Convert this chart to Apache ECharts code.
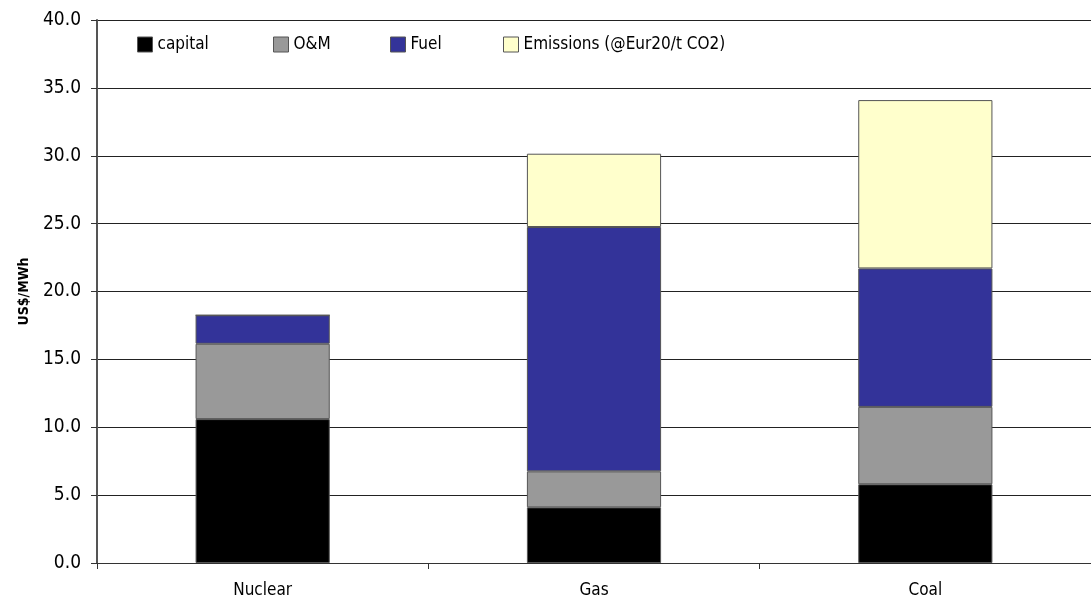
<!DOCTYPE html>
<html lang="en">
<head>
    <meta charset="UTF-8">
    <title>Generation cost</title>
    <script src="https://cdn.jsdelivr.net/npm/echarts@6/dist/echarts.min.js"></script>
    <style>
        html, body { margin: 0; padding: 0; width: 100%; height: 100%; background: #fff; }
        #chart { width: 1091px; height: 603px; }
    </style>
</head>
<body>
<div id="chart"></div>
<script type="text/javascript">
    // categories and stacked components (US$/MWh)
    var categories = ['Nuclear', 'Gas', 'Coal'];
    var capital = [10.6, 4.1, 5.8];
    var oam = [5.55, 2.65, 5.7];
    var fuel = [2.1, 18.0, 10.2];
    var emissions = [0, 5.4, 12.4];
    var seriesNames = ['capital', 'O&M', 'Fuel', 'Emissions (@Eur20/t CO2)'];
    var colors = ['#000000', '#999999', '#333399', '#ffffcc'];

    var fontFam = "'Liberation Sans Narrow', 'DejaVu Sans Condensed', sans-serif";
    var myChart = echarts.init(document.getElementById('chart'));

    function bar(name, data, color) {
        return {
            name: name,
            type: 'bar',
            stack: 'cost',
            barWidth: '40.5%',
            data: data,
            itemStyle: { color: color, borderColor: '#555', borderWidth: 1 }
        };
    }

    // one legend per item so they sit where the original puts them
    var legendLefts = [132, 268, 385, 498];
    var legends = seriesNames.map(function (n, i) {
        return {
            data: [n],
            left: legendLefts[i],
            top: 31,
            itemWidth: 15,
            itemHeight: 15,
            itemGap: 5,
            icon: 'rect',
            itemStyle: { borderColor: '#555', borderWidth: 1 },
            textStyle: { fontFamily: fontFam, fontSize: 17, color: '#000' }
        };
    });

    var option = {
        animation: false,
        legend: legends,
        grid: { left: 97, right: -3, top: 20, bottom: 40, containLabel: false },
        xAxis: {
            type: 'category',
            data: categories,
            axisLine: { lineStyle: { color: '#333' } },
            axisTick: { show: true, alignWithLabel: false, length: 6, lineStyle: { color: '#333' } },
            axisLabel: { fontFamily: fontFam, fontSize: 17, color: '#000', margin: 19 }
        },
        yAxis: {
            type: 'value',
            min: 0,
            max: 40,
            interval: 5,
            name: 'US$/MWh',
            nameLocation: 'middle',
            nameGap: 66,
            nameTextStyle: { fontFamily: fontFam, fontSize: 14, fontWeight: 'bold', color: '#000' },
            axisLine: { show: true, lineStyle: { color: '#555', width: 2 } },
            axisTick: { show: true, length: 6, lineStyle: { color: '#333' } },
            axisLabel: {
                fontFamily: fontFam, fontSize: 19, color: '#000', margin: 16,
                formatter: function (v) { return v.toFixed(1); }
            },
            splitLine: { show: true, lineStyle: { color: '#222', width: 1 } }
        },
        series: [
            bar(seriesNames[0], capital, colors[0]),
            bar(seriesNames[1], oam, colors[1]),
            bar(seriesNames[2], fuel, colors[2]),
            bar(seriesNames[3], emissions, colors[3])
        ]
    };

    myChart.setOption(option);
</script>
</body>
</html>
